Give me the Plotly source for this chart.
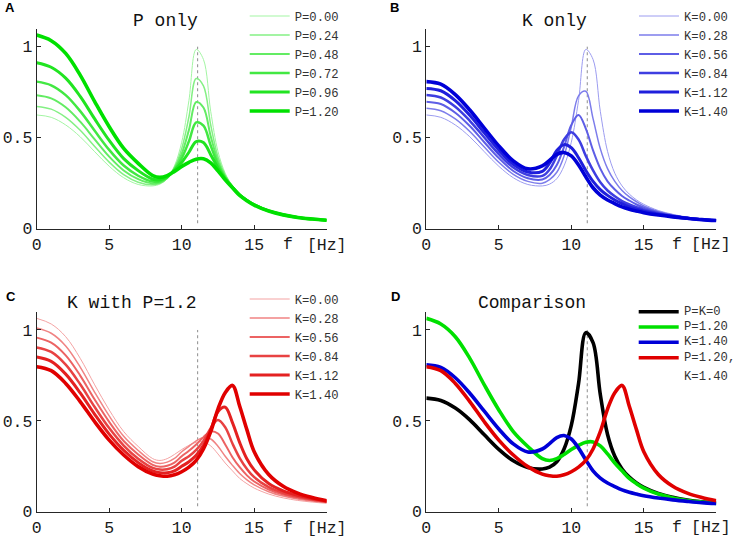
import plotly.graph_objects as go

# ---------------- data ----------------
X = [0, 1, 2, 3, 4, 5, 6, 7, 8, 8.5, 9, 9.5, 10, 10.5, 11, 11.5, 12, 12.5,
     13, 13.5, 14, 14.5, 15, 16, 17, 18, 19, 20]

# Panel A: P only
P000 = [0.625, 0.612, 0.570, 0.505, 0.423, 0.343, 0.280, 0.243, 0.235, 0.245, 0.275, 0.345, 0.475, 0.705,
        0.985, 0.930, 0.645, 0.425, 0.305, 0.235, 0.190, 0.158, 0.134, 0.100, 0.079, 0.064, 0.054, 0.048]
P024 = [0.672, 0.657, 0.612, 0.541, 0.452, 0.366, 0.297, 0.255, 0.241, 0.249, 0.277, 0.337, 0.440, 0.615,
        0.825, 0.785, 0.570, 0.395, 0.295, 0.233, 0.189, 0.157, 0.133, 0.099, 0.078, 0.064, 0.054, 0.048]
P048 = [0.733, 0.716, 0.667, 0.588, 0.491, 0.396, 0.320, 0.272, 0.249, 0.254, 0.279, 0.331, 0.411, 0.543,
        0.696, 0.666, 0.508, 0.372, 0.287, 0.231, 0.188, 0.157, 0.133, 0.099, 0.078, 0.063, 0.054, 0.047]
P072 = [0.808, 0.788, 0.734, 0.646, 0.538, 0.433, 0.347, 0.291, 0.259, 0.260, 0.282, 0.325, 0.387, 0.480,
        0.584, 0.566, 0.457, 0.352, 0.280, 0.229, 0.186, 0.156, 0.132, 0.098, 0.077, 0.063, 0.053, 0.047]
P096 = [0.912, 0.887, 0.827, 0.727, 0.603, 0.485, 0.385, 0.319, 0.272, 0.269, 0.286, 0.320, 0.364, 0.420,
        0.479, 0.473, 0.407, 0.334, 0.274, 0.227, 0.185, 0.155, 0.131, 0.098, 0.077, 0.062, 0.053, 0.047]
P120 = [1.064, 1.033, 0.963, 0.844, 0.698, 0.560, 0.441, 0.359, 0.292, 0.282, 0.292, 0.315, 0.342, 0.365,
        0.382, 0.384, 0.362, 0.318, 0.268, 0.225, 0.183, 0.154, 0.130, 0.097, 0.076, 0.062, 0.053, 0.046]

# Panel B: K only
K000 = P000
K028 = [0.662, 0.648, 0.603, 0.534, 0.449, 0.365, 0.299, 0.260, 0.250, 0.270, 0.310, 0.400, 0.560, 0.730,
        0.755, 0.605, 0.440, 0.330, 0.260, 0.210, 0.175, 0.148, 0.125, 0.095, 0.076, 0.062, 0.053, 0.047]
K056 = [0.698, 0.685, 0.637, 0.564, 0.475, 0.388, 0.317, 0.277, 0.270, 0.295, 0.350, 0.450, 0.570, 0.625,
        0.550, 0.430, 0.330, 0.260, 0.215, 0.180, 0.155, 0.133, 0.115, 0.090, 0.073, 0.060, 0.052, 0.047]
K084 = [0.735, 0.721, 0.670, 0.593, 0.501, 0.410, 0.336, 0.295, 0.290, 0.325, 0.400, 0.490, 0.530, 0.490,
        0.400, 0.320, 0.255, 0.210, 0.178, 0.152, 0.133, 0.118, 0.105, 0.085, 0.070, 0.059, 0.051, 0.046]
K112 = [0.771, 0.758, 0.704, 0.623, 0.527, 0.433, 0.354, 0.312, 0.315, 0.360, 0.430, 0.462, 0.445, 0.390,
        0.320, 0.260, 0.215, 0.183, 0.158, 0.138, 0.120, 0.107, 0.096, 0.080, 0.067, 0.058, 0.050, 0.045]
K140 = [0.808, 0.794, 0.737, 0.652, 0.553, 0.455, 0.373, 0.329, 0.345, 0.375, 0.408, 0.419, 0.400, 0.350,
        0.285, 0.225, 0.185, 0.158, 0.138, 0.120, 0.107, 0.097, 0.088, 0.075, 0.065, 0.057, 0.050, 0.045]

# Panel C: K with P=1.2
C000 = P120
C028 = [1.011, 0.982, 0.912, 0.796, 0.657, 0.527, 0.415, 0.337, 0.275, 0.265, 0.273, 0.293, 0.330, 0.360,
        0.390, 0.408, 0.400, 0.360, 0.305, 0.255, 0.210, 0.175, 0.148, 0.110, 0.086, 0.070, 0.059, 0.051]
C056 = [0.958, 0.930, 0.860, 0.749, 0.617, 0.494, 0.389, 0.315, 0.258, 0.248, 0.253, 0.270, 0.305, 0.335,
        0.370, 0.410, 0.442, 0.430, 0.370, 0.300, 0.245, 0.200, 0.166, 0.122, 0.094, 0.076, 0.063, 0.054]
C084 = [0.904, 0.879, 0.809, 0.701, 0.576, 0.460, 0.364, 0.292, 0.241, 0.232, 0.234, 0.248, 0.280, 0.305,
        0.340, 0.390, 0.460, 0.505, 0.465, 0.375, 0.295, 0.235, 0.190, 0.135, 0.103, 0.082, 0.067, 0.056]
C112 = [0.851, 0.827, 0.757, 0.654, 0.536, 0.427, 0.338, 0.270, 0.224, 0.215, 0.214, 0.225, 0.250, 0.275,
        0.310, 0.365, 0.450, 0.550, 0.575, 0.490, 0.380, 0.290, 0.230, 0.155, 0.115, 0.090, 0.072, 0.058]
C140 = [0.798, 0.776, 0.706, 0.606, 0.495, 0.394, 0.312, 0.248, 0.207, 0.198, 0.195, 0.203, 0.220, 0.245,
        0.282, 0.345, 0.440, 0.565, 0.655, 0.695, 0.580, 0.450, 0.330, 0.205, 0.140, 0.102, 0.078, 0.060]

A_LABELS = ["P=0.00", "P=0.24", "P=0.48", "P=0.72", "P=0.96", "P=1.20"]
K_LABELS = ["K=0.00", "K=0.28", "K=0.56", "K=0.84", "K=1.12", "K=1.40"]
D_LABELS = ["P=K=0", "P=1.20", "K=1.40", "P=1.20,"]
D_LABEL_CONT = "K=1.40"
TITLES = ["P only", "K only", "K with P=1.2", "Comparison"]
LETTERS = ["A", "B", "C", "D"]
XTICKS = [0, 5, 10, 15, 20]
XTICKTEXT = ["0", "5", "10", "15", "[Hz]"]
XTICKTEXT_EDGE = ["0", "5", "10", "15", ""]   # right panels: unit drawn clear of the page edge
UNIT = "[Hz]"
YTICKS = [0, 0.5, 1]
YTICKTEXT = ["0", "0.5", "1"]
PEAK_F = 11.1

# ---------------- styles ----------------
GREENS = ["#a3f5a3", "#84f084", "#63ec63", "#42e842", "#21e421", "#00e000"]
BLUES = ["#9c9cf0", "#7d7deb", "#5e5ee6", "#3e3ee1", "#1f1fdc", "#0000d7"]
REDS = ["#f4a3a3", "#f08383", "#ec6363", "#e84242", "#e42121", "#e00000"]
WIDTHS = [1.0, 1.5, 2.0, 2.5, 3.0, 3.6]
D_COLORS = ["#000000", "#00e000", "#0000d7", "#e00000"]
MONO = "Liberation Mono"
AXC = "#262626"
TICKFONT = dict(family=MONO, size=16.5, color="#1a1a1a")
LEGFONT = dict(family=MONO, size=12.2, color="#333333")

W, H = 734, 538
def px2x(p): return p / W
def py2y(p): return 1 - p / H

fig = go.Figure()

panels = [
    ("x", "y", [P000, P024, P048, P072, P096, P120], A_LABELS, GREENS, "legend"),
    ("x2", "y2", [K000, K028, K056, K084, K112, K140], K_LABELS, BLUES, "legend2"),
    ("x3", "y3", [C000, C028, C056, C084, C112, C140], K_LABELS, REDS, "legend3"),
]
for xa, ya, series, labels, cols, lg in panels:
    for s, lab, c, w in zip(series, labels, cols, WIDTHS):
        fig.add_trace(go.Scatter(x=X, y=s, mode="lines", name=lab, xaxis=xa, yaxis=ya,
                                 line=dict(color=c, width=w, shape="spline", smoothing=1.0),
                                 legend=lg))

for s, lab, c in zip([P000, P120, K140, C140], D_LABELS, D_COLORS):
    fig.add_trace(go.Scatter(x=X, y=s, mode="lines", name=lab, xaxis="x4", yaxis="y4",
                             line=dict(color=c, width=3.6, shape="spline", smoothing=1.0),
                             showlegend=False))

doms = {
    1: ([px2x(36.7), px2x(326.7)], [py2y(228.7), py2y(28.5)]),
    2: ([px2x(426.3), px2x(716.3)], [py2y(228.7), py2y(28.5)]),
    3: ([px2x(36.7), px2x(326.7)], [py2y(511.7), py2y(311.8)]),
    4: ([px2x(426.3), px2x(716.3)], [py2y(511.7), py2y(311.8)]),
}

layout = dict(width=W, height=H, margin=dict(l=0, r=0, t=0, b=0, autoexpand=False),
              paper_bgcolor="white", plot_bgcolor="white", showlegend=True)
for i in range(1, 5):
    sx = "" if i == 1 else str(i)
    xd, yd = doms[i]
    common = dict(ticks="inside", ticklen=4, tickcolor=AXC, showline=True, linecolor=AXC,
                  linewidth=1, showgrid=False, zeroline=False, automargin=False, fixedrange=True,
                  ticklabeloverflow="allow", tickfont=TICKFONT)
    layout["xaxis" + sx] = dict(domain=xd, range=[0, 20], tickvals=XTICKS,
                                ticktext=XTICKTEXT if i in (1, 3) else XTICKTEXT_EDGE,
                                anchor="y" + sx, **common)
    layout["yaxis" + sx] = dict(domain=yd, range=[0, 1.1], tickvals=YTICKS, ticktext=YTICKTEXT,
                                anchor="x" + sx, **common)

def leg(xp, yp):
    return dict(x=px2x(xp), y=py2y(yp), xanchor="left", yanchor="top", bgcolor="rgba(0,0,0,0)",
                font=LEGFONT, tracegroupgap=0, itemwidth=40)
layout["legend"] = leg(244.7, 1.5)
layout["legend2"] = leg(634, 1.5)
layout["legend3"] = leg(244.7, 284.5)

fig.update_layout(**layout)

# legend of panel D (compact rows, as in the reference)
d_rows = [311.7, 327.0, 342.3, 357.7]
for yrow, lab, c in zip(d_rows, D_LABELS, D_COLORS):
    fig.add_shape(type="line", xref="paper", yref="paper", x0=px2x(638.7), x1=px2x(678.7),
                  y0=py2y(yrow), y1=py2y(yrow), line=dict(color=c, width=3.6))
    fig.add_annotation(x=px2x(682), y=py2y(yrow), xref="paper", yref="paper", text=lab,
                       showarrow=False, xanchor="left", yanchor="middle", font=LEGFONT)
fig.add_annotation(x=px2x(682), y=py2y(376.7), xref="paper", yref="paper", text=D_LABEL_CONT,
                   showarrow=False, xanchor="left", yanchor="middle", font=LEGFONT)

# dotted reference line at the resonance
for i in range(1, 5):
    sx = "" if i == 1 else str(i)
    fig.add_shape(type="line", xref="x" + sx, yref="y" + sx, x0=PEAK_F, x1=PEAK_F, y0=0.03, y1=1.0,
                  line=dict(color="#8c8c8c", width=1, dash="dot"), layer="below")

# "f" label next to the unit tick label
for i in range(1, 5):
    sx = "" if i == 1 else str(i)
    fig.add_annotation(x=17.3, y=0, xref="x" + sx, yref="y" + sx, text="f", showarrow=False,
                       yanchor="middle", yshift=-16, font=TICKFONT)
# unit label for the right-hand panels, kept inside the page
for sx in ("2", "4"):
    fig.add_annotation(x=1.0, y=0, xref="paper", yref="y" + sx, text=UNIT, showarrow=False,
                       xanchor="right", yanchor="middle", yshift=-16, xshift=-1, font=TICKFONT)

# titles and panel letters (pixel positions)
title_pos = [(165, 21), (554.5, 21), (131.7, 303), (532, 303)]
for (tx, ty), t in zip(title_pos, TITLES):
    fig.add_annotation(x=px2x(tx), y=py2y(ty), xref="paper", yref="paper", text=t, showarrow=False,
                       xanchor="center", yanchor="middle", font=dict(family=MONO, size=18, color="#111"))
letter_pos = [(10, 7.5), (394.5, 7.5), (11, 296), (395, 296)]
for (lx, ly), t in zip(letter_pos, LETTERS):
    fig.add_annotation(x=px2x(lx), y=py2y(ly), xref="paper", yref="paper", text="<b>" + t + "</b>",
                       showarrow=False, xanchor="center", yanchor="middle",
                       font=dict(family="Liberation Sans", size=13, color="#000"))

fig.write_html("out.html", config={"displayModeBar": False},
               post_script="document.body.style.margin='0';document.body.style.padding='0';"
                           "document.body.style.overflow='hidden';")
